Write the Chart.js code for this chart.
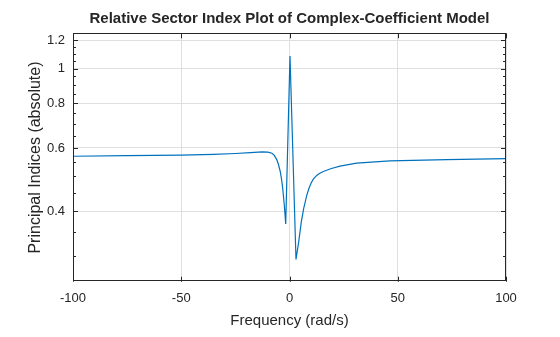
<!DOCTYPE html>
<html>
<head>
<meta charset="utf-8">
<title>Relative Sector Index Plot</title>
<script src="https://cdn.jsdelivr.net/npm/chart.js@4/dist/chart.umd.min.js"></script>
<style>
  html, body { margin: 0; padding: 0; background: #fff; }
  #wrap { width: 560px; height: 337px; }
</style>
</head>
<body>
<div id="wrap"><canvas id="sectorChart" width="560" height="337"></canvas></div>
<script>
// frequency grid (rad/s) and the principal index at each point
const freq = [-100, -75, -50, -35, -25, -18, -12.7, -10, -8.1, -7, -5.8, -5, -4.25, -3.6, -3.14, -2.4, -1.75,
  0.23, 3.0, 4.25, 5.45, 6.56, 8, 9, 10, 11, 12, 13, 14, 15.6, 19, 23.3, 31, 46.4, 72.6, 100];
const indexValues = [0.569, 0.571, 0.573, 0.576, 0.579, 0.582, 0.585, 0.584, 0.580, 0.572, 0.555, 0.537, 0.515, 0.487, 0.463, 0.416, 0.368,
  1.084, 0.293, 0.328, 0.373, 0.407, 0.443, 0.463, 0.479, 0.491, 0.499, 0.505, 0.510, 0.516, 0.525, 0.534, 0.544, 0.552, 0.557, 0.560];

const xTickValues = [-100, -50, 0, 50, 100];
const yTickValues = [0.4, 0.6, 0.8, 1, 1.2];
const yMinorValues = [0.3, 0.35, 0.45, 0.5, 0.55, 0.65, 0.7, 0.75, 0.85, 0.9, 0.95, 1.05, 1.1, 1.15];

const chartTitle = 'Relative Sector Index Plot of Complex-Coefficient Model';

const points = freq.map((f, i) => ({ x: f, y: indexValues[i] }));

const FONT = "'Liberation Sans', Arial, sans-serif";
const INK = '#262626';

// box around the axes, inward tick marks, and the title centred over the axes
const axesFrame = {
  id: 'axesFrame',
  afterDatasetsDraw(chart) {
    const { ctx, chartArea: a, scales: { x, y } } = chart;
    ctx.save();
    ctx.strokeStyle = INK;
    ctx.lineWidth = 1;
    ctx.beginPath();
    const hTick = (v, len) => {
      const py = Math.round(y.getPixelForValue(v)) + 0.5;
      ctx.moveTo(a.left, py); ctx.lineTo(a.left + len, py);
      ctx.moveTo(a.right, py); ctx.lineTo(a.right - len, py);
    };
    yTickValues.forEach(v => hTick(v, 5));
    yMinorValues.forEach(v => hTick(v, 3));
    xTickValues.forEach(v => {
      const px = Math.round(x.getPixelForValue(v)) + 0.5;
      ctx.moveTo(px, a.bottom); ctx.lineTo(px, a.bottom - 5);
      ctx.moveTo(px, a.top); ctx.lineTo(px, a.top + 5);
    });
    ctx.stroke();
    ctx.strokeRect(Math.round(a.left) + 0.5, Math.round(a.top) + 0.5,
      Math.round(a.width) - 1, Math.round(a.height) - 1);

    ctx.fillStyle = INK;
    ctx.font = 'bold 15px ' + FONT;
    ctx.textAlign = 'center';
    ctx.textBaseline = 'middle';
    ctx.fillText(chartTitle, (a.left + a.right) / 2, 19);
    ctx.restore();
  }
};

new Chart(document.getElementById('sectorChart'), {
  type: 'line',
  data: {
    datasets: [{
      data: points,
      borderColor: '#0072BD',
      borderWidth: 1.2,
      pointRadius: 0,
      tension: 0,
      fill: false
    }]
  },
  options: {
    responsive: false,
    animation: false,
    layout: { padding: { left: 0, right: 54, top: 33.3, bottom: 0 } },
    plugins: {
      legend: { display: false },
      tooltip: { enabled: false },
      title: { display: false }
    },
    scales: {
      x: {
        type: 'linear',
        min: -100,
        max: 100,
        bounds: 'data',
        afterBuildTicks: s => { s.ticks = xTickValues.map(v => ({ value: v })); },
        afterFit: s => { s.height = 55.3; },
        ticks: {
          color: INK,
          font: { family: FONT, size: 13 },
          padding: 9,
          maxRotation: 0,
          callback: v => String(v)
        },
        grid: { color: '#dfdfdf', drawTicks: false },
        border: { display: false },
        title: {
          display: true,
          text: 'Frequency (rad/s)',
          color: INK,
          font: { family: FONT, size: 15 },
          padding: { top: 0, bottom: 7 }
        }
      },
      y: {
        type: 'logarithmic',
        min: 0.254,
        max: 1.254,
        bounds: 'data',
        afterBuildTicks: s => { s.ticks = yTickValues.map(v => ({ value: v })); },
        afterFit: s => { s.width = 73; },
        ticks: {
          color: INK,
          font: { family: FONT, size: 13 },
          padding: 8,
          callback: v => String(v)
        },
        grid: { color: '#dfdfdf', drawTicks: false },
        border: { display: false },
        title: {
          display: true,
          text: 'Principal Indices (absolute)',
          color: INK,
          font: { family: FONT, size: 16 },
          padding: { top: 25.8, bottom: 0 }
        }
      }
    }
  },
  plugins: [axesFrame]
});
</script>
</body>
</html>
